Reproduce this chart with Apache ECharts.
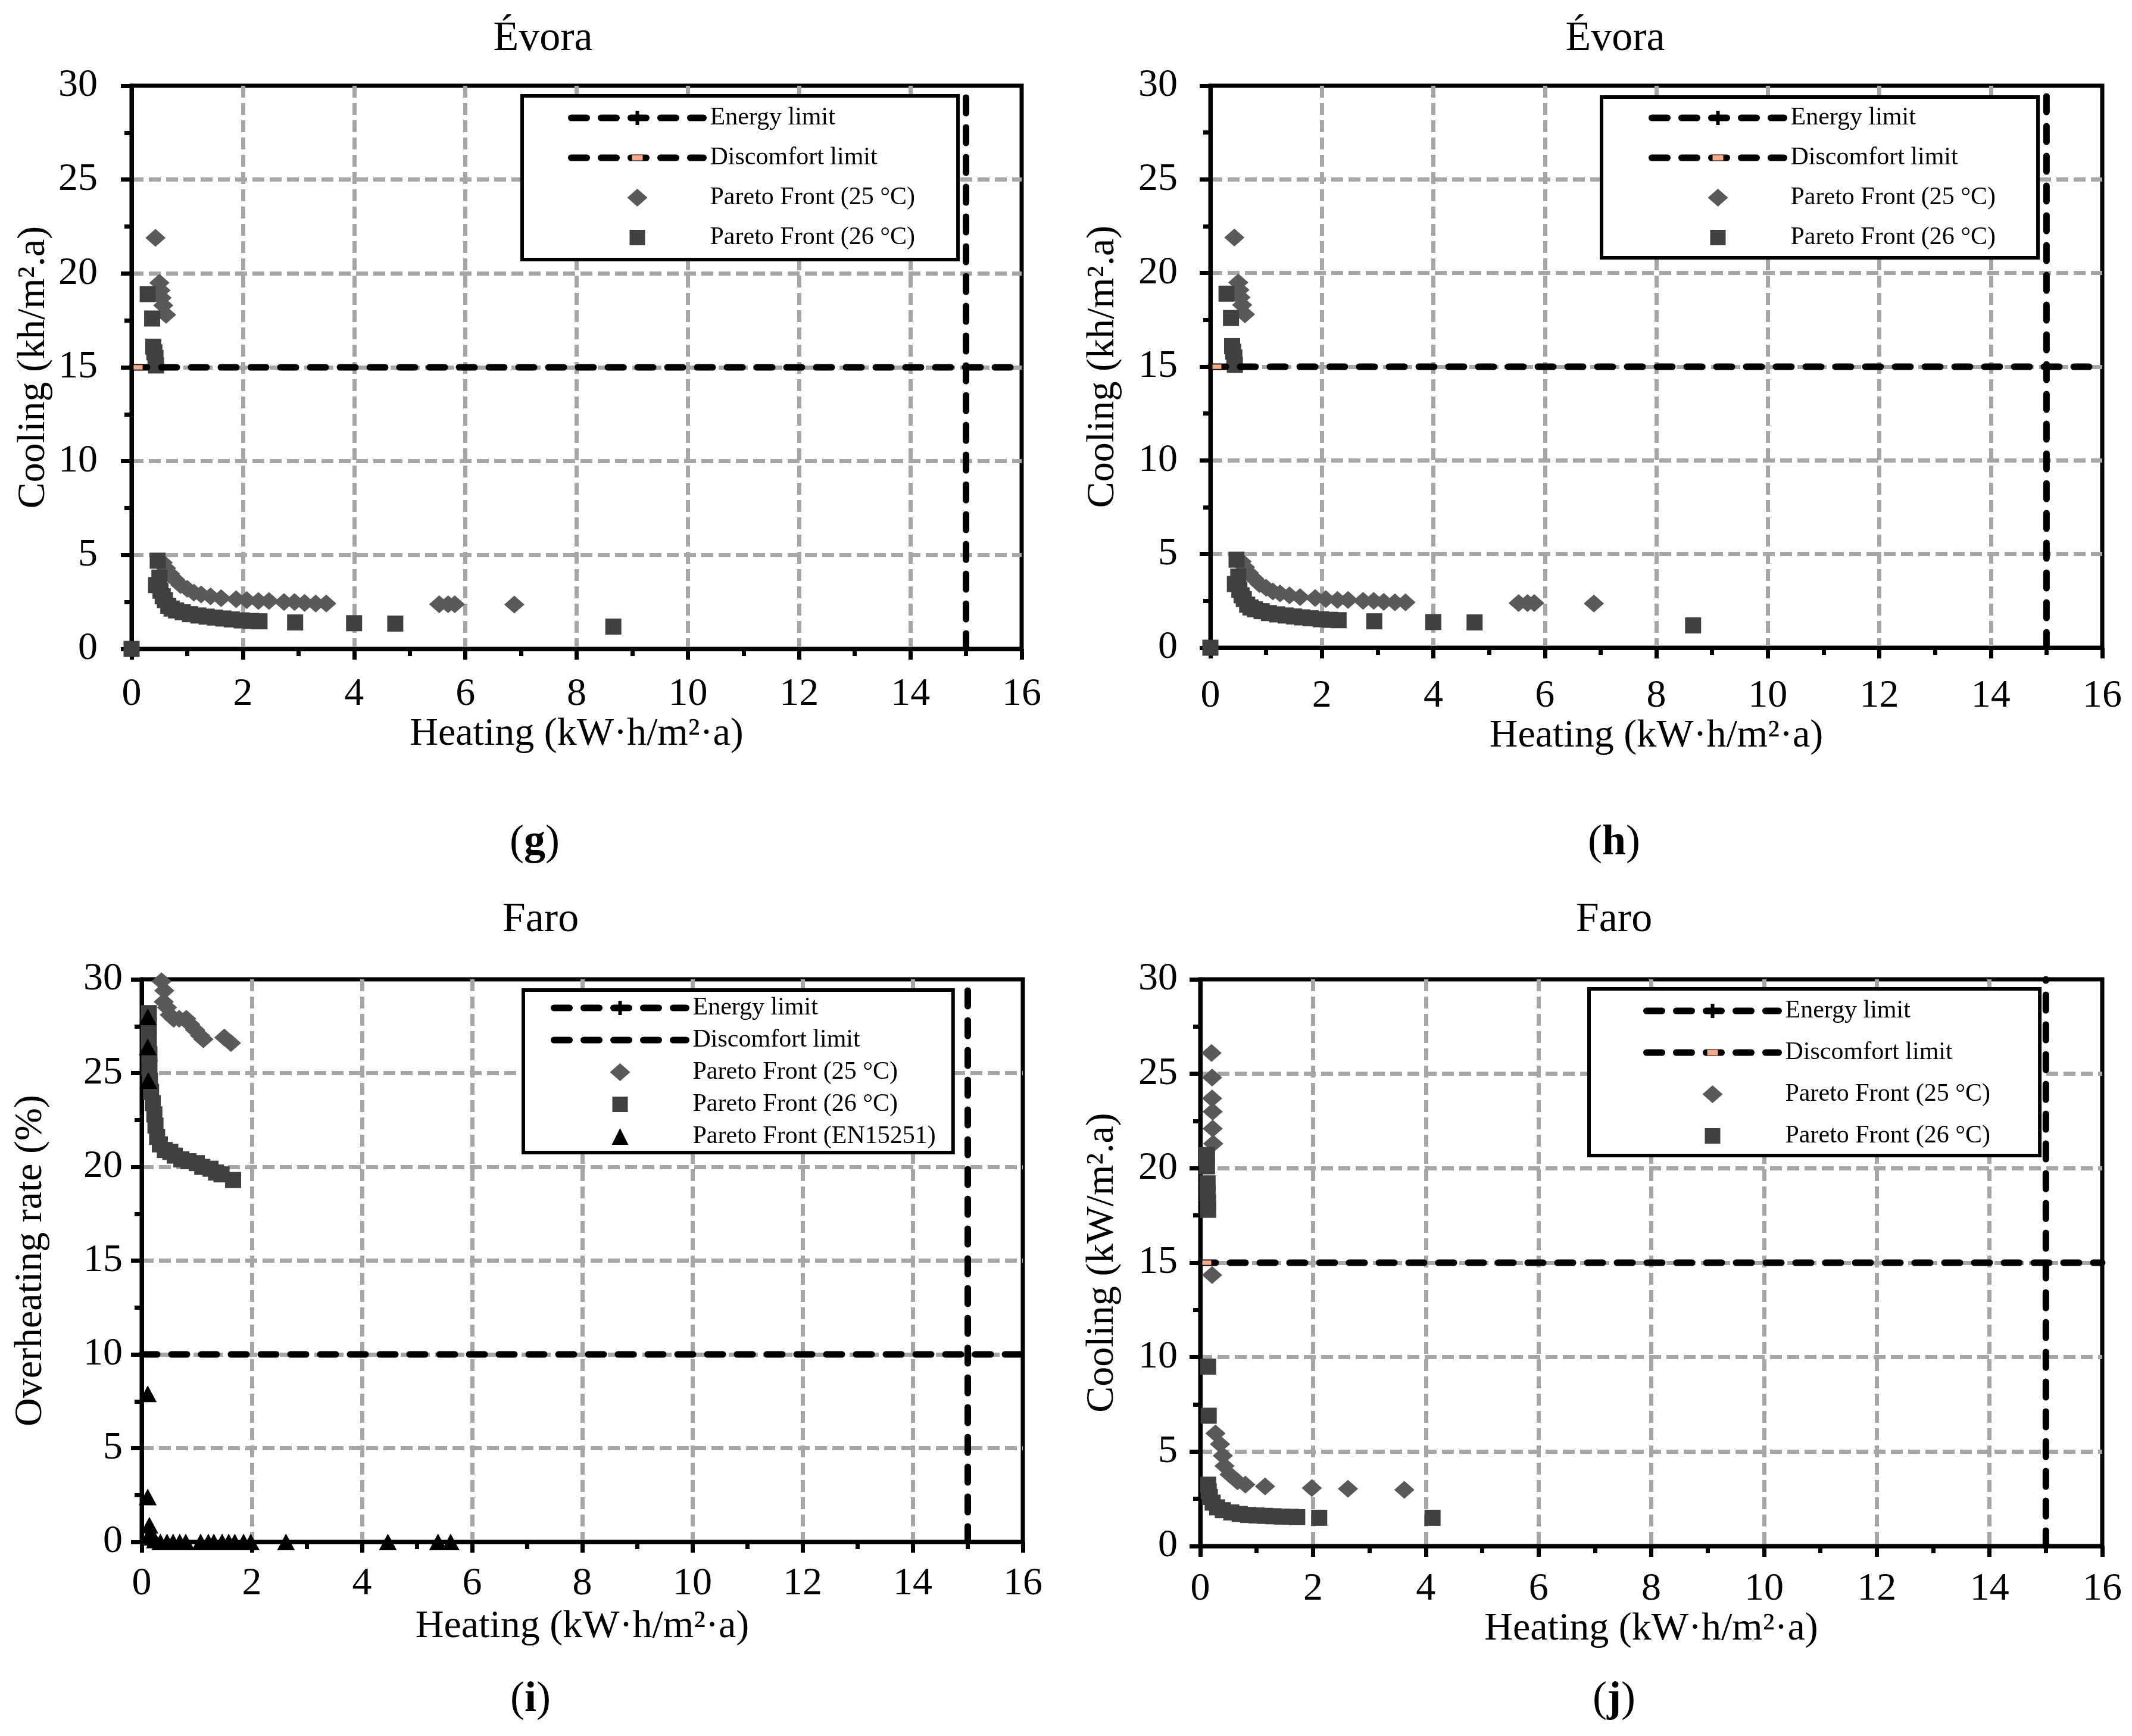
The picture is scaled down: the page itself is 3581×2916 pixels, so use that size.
<!DOCTYPE html>
<html>
<head>
<meta charset="utf-8">
<script src="https://cdn.jsdelivr.net/npm/echarts@6/dist/echarts.min.js"></script>
<style>
  html, body { margin: 0; padding: 0; background: #fff; }
  #chart { width: 3581px; height: 2916px; }
</style>
</head>
<body>
<div id="chart"></div>
<script>
const FONT = 'Liberation Serif';

// Évora, panels (g) and (h): heating vs cooling, [heating, cooling]
const evora25 = [
  [0.43, 21.9], [0.50, 19.5], [0.52, 19.1], [0.54, 18.7], [0.57, 18.3], [0.62, 17.8],
  [0.56, 4.6], [0.62, 4.3], [0.69, 4.0], [0.78, 3.7], [0.88, 3.4], [1.0, 3.2], [1.12, 3.0],
  [1.25, 2.9], [1.42, 2.8], [1.61, 2.7], [1.88, 2.65], [2.07, 2.6], [2.28, 2.55], [2.47, 2.55],
  [2.74, 2.5], [2.93, 2.5], [3.11, 2.45], [3.31, 2.42], [3.5, 2.42],
  [5.53, 2.38], [5.69, 2.38], [5.81, 2.38], [6.88, 2.36]
];
const evora26 = [
  [0, 0], [0.29, 18.9], [0.37, 17.6], [0.39, 16.1], [0.41, 15.8], [0.43, 15.5], [0.44, 15.1],
  [0.47, 4.7], [0.5, 3.8], [0.44, 3.4], [0.52, 3.1], [0.56, 2.8], [0.6, 2.6], [0.66, 2.3],
  [0.72, 2.15], [0.8, 2.05], [0.92, 1.95], [1.05, 1.85], [1.2, 1.78], [1.35, 1.72], [1.5, 1.67],
  [1.65, 1.62], [1.8, 1.57], [1.98, 1.52], [2.15, 1.49], [2.3, 1.47],
  [2.94, 1.41], [4.0, 1.37], [4.74, 1.35], [8.66, 1.19]
];

// Faro, panel (i): heating vs overheating rate, [heating, %]
const faroOh25 = [
  [0.36, 29.9], [0.41, 29.4], [0.40, 28.8], [0.46, 28.5], [0.51, 28.1], [0.58, 27.9],
  [0.68, 27.9], [0.81, 27.9], [0.88, 27.6], [0.97, 27.3], [1.06, 27.0], [1.12, 26.8],
  [1.50, 26.9], [1.62, 26.6]
];
const faroOh26 = [
  [0.13, 28.2], [0.13, 27.5], [0.13, 26.7], [0.14, 26.0], [0.14, 25.3], [0.15, 24.6],
  [0.17, 24.0], [0.2, 23.4], [0.23, 22.8], [0.25, 22.2], [0.28, 21.6], [0.33, 21.2],
  [0.42, 20.9], [0.52, 20.8], [0.6, 20.6], [0.72, 20.4], [0.85, 20.3], [1.0, 20.2],
  [1.1, 20.0], [1.25, 19.9], [1.35, 19.7], [1.45, 19.6], [1.66, 19.3]
];
const faroEn = [
  [0.11, 28.0], [0.11, 26.4], [0.12, 24.6], [0.11, 7.9], [0.11, 2.4], [0.14, 0.9],
  [0.16, 0.5], [0.2, 0.25], [0.24, 0.1], [0.34, 0], [0.46, 0], [0.57, 0], [0.69, 0],
  [0.8, 0], [1.07, 0], [1.21, 0], [1.31, 0], [1.46, 0], [1.58, 0], [1.69, 0], [1.85, 0],
  [1.98, 0], [2.62, 0], [4.47, 0], [5.38, 0], [5.61, 0]
];

// Faro, panel (j): heating vs cooling
const faroC25 = [
  [0.20, 26.1], [0.21, 24.8], [0.21, 23.7], [0.22, 23.0], [0.22, 22.1], [0.23, 21.3],
  [0.21, 14.35], [0.27, 5.96], [0.35, 5.4], [0.40, 4.78], [0.43, 4.24], [0.52, 3.79],
  [0.66, 3.43], [0.80, 3.25], [1.15, 3.16], [1.98, 3.07], [2.62, 3.03], [3.62, 2.98]
];
const faroC26 = [
  [0.12, 20.7], [0.12, 20.1], [0.13, 19.2], [0.13, 18.7], [0.14, 18.2], [0.14, 17.8],
  [0.14, 9.5], [0.15, 6.9], [0.14, 3.25], [0.15, 2.9], [0.17, 2.6], [0.22, 2.3], [0.3, 2.05],
  [0.4, 1.9], [0.55, 1.78], [0.7, 1.7], [0.85, 1.65], [1.0, 1.62], [1.15, 1.6], [1.3, 1.58],
  [1.45, 1.56], [1.6, 1.55], [1.72, 1.53], [2.11, 1.5], [4.12, 1.5]
];

const energyLimit = 15;
const xRange = [0, 16];
const yRange = [0, 30];

const xName = 'Heating (kW·h/m²·a)';
const frontNames = ['Pareto Front (25 °C)', 'Pareto Front (26 °C)', 'Pareto Front (EN15251)'];

// legend / marker icons (corner specks keep the box square)
const ENERGY_ICON = 'path://M0,0L0.01,0L0,0.01ZM24,24L23.99,24L24,23.99ZM9,0L15,0L15,24L9,24Z';
const DISCOMFORT_ICON = 'path://M0,0L0.01,0L0,0.01ZM24,24L23.99,24L24,23.99ZM3,7.5L21,7.5L21,16.5L3,16.5Z';
const DIAMOND_ICON = 'path://M0,0L0.01,0L0,0.01ZM34,30L33.99,30L34,29.99ZM17,0L34,15L17,30L0,15Z';
const SQUARE_ICON = 'path://M0,0L0.01,0L0,0.01ZM30,30L29.99,30L30,29.99ZM2,2L28,2L28,28L2,28Z';
const TRIANGLE_ICON = 'path://M0,0L0.01,0L0,0.01ZM30,30L29.99,30L30,29.99ZM15,1L29,29L1,29Z';

const marks = [
  { symbol: 'diamond', size: [34, 30], color: '#595959', icon: DIAMOND_ICON },
  { symbol: 'rect', size: [27, 27], color: '#404040', icon: SQUARE_ICON },
  { symbol: 'triangle', size: [30, 28], color: '#000000', icon: TRIANGLE_ICON }
];

const panels = [
  { tag: 'g', title: 'Évora', yName: 'Cooling (kh/m².a)', limit: 15, sets: [evora25, evora26], salmon: true,
    grid: { left: 221, top: 144, width: 1495, height: 946 },
    mx: 44, my: 57, gx: 110, gy: 131,
    legend: { left: 877, top: 161, padding: [16, 72, 16, 77], itemGap: 25 },
    titleAt: [912, 66], tagAt: [898, 1416] },
  { tag: 'h', title: 'Évora', yName: 'Cooling (kh/m².a)', limit: 15, sets: [evora25, evora26], salmon: true,
    grid: { left: 2033, top: 144, width: 1498, height: 944 },
    mx: 49, my: 55, gx: 113, gy: 147,
    legend: { left: 2690, top: 163, padding: [14, 71, 13, 79], itemGap: 25 },
    titleAt: [2713, 66], tagAt: [2711, 1416] },
  { tag: 'i', title: 'Faro', yName: 'Overheating rate (%)', limit: 10, sets: [faroOh25, faroOh26, faroEn], salmon: false,
    grid: { left: 238, top: 1645, width: 1480, height: 945 },
    mx: 38, my: 32, gx: 110, gy: 153,
    legend: { left: 879, top: 1663, padding: [9, 29, 6, 46], itemGap: 12 },
    titleAt: [908, 1546], tagAt: [891, 2855] },
  { tag: 'j', title: 'Faro', yName: 'Cooling (kW/m².a)', limit: 15, sets: [faroC25, faroC26], salmon: true,
    grid: { left: 2016, top: 1645, width: 1515, height: 952 },
    mx: 40, my: 38, gx: 105, gy: 131,
    legend: { left: 2669, top: 1661, padding: [16, 83, 12, 91], itemGap: 28 },
    titleAt: [2711, 1546], tagAt: [2711, 2855] }
];

const grids = [], xAxes = [], yAxes = [], series = [], legends = [], graphics = [];
const limitLine = { color: '#000', width: 11, type: [26, 24], cap: 'round' };
const axisBits = (len) => ({
  axisLine: { onZero: false, lineStyle: { color: '#000', width: 7 } },
  axisTick: { length: len, lineStyle: { color: '#000', width: 7 } },
  minorTick: { show: true, splitNumber: 2, length: 12, lineStyle: { color: '#000', width: 7 } },
  splitLine: { show: true, showMinLine: false, showMaxLine: false,
               lineStyle: { color: '#a6a6a6', width: 7, type: [20, 9] } }
});

panels.forEach((p, k) => {
  grids.push(Object.assign({ show: true, borderColor: '#000', borderWidth: 7, containLabel: false }, p.grid));
  xAxes.push(Object.assign({
    gridIndex: k, type: 'value', min: xRange[0], max: xRange[1], interval: 2,
    axisLabel: { fontFamily: FONT, fontSize: 66, color: '#000', margin: p.mx },
    name: xName, nameLocation: 'middle', nameGap: p.gx,
    nameTextStyle: { fontFamily: FONT, fontSize: 66, color: '#000' }
  }, axisBits(18)));
  yAxes.push(Object.assign({
    gridIndex: k, type: 'value', min: yRange[0], max: yRange[1], interval: 5,
    axisLabel: { fontFamily: FONT, fontSize: 66, color: '#000', margin: p.my },
    name: p.yName, nameLocation: 'middle', nameGap: p.gy,
    nameTextStyle: { fontFamily: FONT, fontSize: 66, color: '#000' }
  }, axisBits(18)));

  const discName = p.salmon ? 'Discomfort limit' : 'Discomfort limit\u200b';
  series.push({
    name: 'Energy limit', type: 'line', xAxisIndex: k, yAxisIndex: k,
    symbol: ENERGY_ICON, symbolSize: 24, itemStyle: { color: '#000' },
    lineStyle: limitLine, silent: true,
    data: [{ value: [energyLimit, yRange[0]], symbol: 'none' }, { value: [energyLimit, yRange[1]], symbol: 'none' }]
  });
  series.push({
    name: discName, type: 'line', xAxisIndex: k, yAxisIndex: k,
    symbol: DISCOMFORT_ICON, symbolSize: 20,
    itemStyle: { color: p.salmon ? '#fca98a' : 'rgba(0,0,0,0)' },
    lineStyle: limitLine, silent: true,
    data: [
      p.salmon ? { value: [xRange[0], p.limit], symbolOffset: [11, 0] } : { value: [xRange[0], p.limit], symbol: 'none' },
      { value: [xRange[1], p.limit], symbol: 'none' }
    ]
  });
  const legendData = [{ name: 'Energy limit' }, { name: discName }];
  p.sets.forEach((set, s) => {
    series.push({
      name: frontNames[s], type: 'scatter', xAxisIndex: k, yAxisIndex: k,
      symbol: marks[s].symbol, symbolSize: marks[s].size,
      itemStyle: { color: marks[s].color, opacity: 1 }, silent: true,
      data: set
    });
    legendData.push({ name: frontNames[s], icon: marks[s].icon });
  });

  legends.push({
    orient: 'vertical', left: p.legend.left, top: p.legend.top,
    padding: p.legend.padding, itemGap: p.legend.itemGap,
    itemWidth: 222, itemHeight: 30, selectedMode: false,
    borderColor: '#000', borderWidth: 6, backgroundColor: '#fff',
    lineStyle: { color: '#000', width: 11, type: [26, 24], cap: 'round' },
    textStyle: { fontFamily: FONT, fontSize: 42, color: '#000', lineHeight: 30, padding: [0, 0, 0, 6] },
    data: legendData
  });

  graphics.push({
    type: 'text', x: p.titleAt[0], y: p.titleAt[1],
    style: { text: p.title, fontFamily: FONT, fontSize: 70, fill: '#000',
             textAlign: 'center', textVerticalAlign: 'middle', align: 'center', verticalAlign: 'middle' }
  });
  graphics.push({
    type: 'text', x: p.tagAt[0], y: p.tagAt[1],
    style: { text: '{p|(}{b|' + p.tag + '}{p|)}', fontFamily: FONT, fontSize: 72, fill: '#000',
             textAlign: 'center', textVerticalAlign: 'middle', align: 'center', verticalAlign: 'middle',
             rich: { p: { fontFamily: FONT, fontSize: 72, fill: '#000' },
                     b: { fontFamily: FONT, fontSize: 72, fontWeight: 'bold', fill: '#000' } } }
  });
});

const chart = echarts.init(document.getElementById('chart'));
chart.setOption({
  backgroundColor: '#fff',
  animation: false,
  textStyle: { fontFamily: FONT },
  grid: grids,
  xAxis: xAxes,
  yAxis: yAxes,
  legend: legends,
  graphic: graphics,
  series: series
});
</script>
</body>
</html>
